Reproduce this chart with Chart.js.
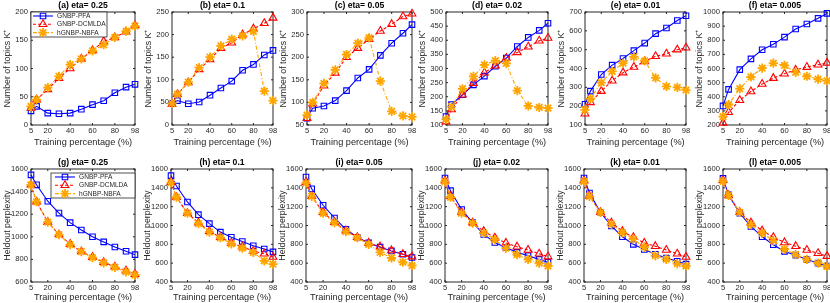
<html>
<head>
<script src="https://cdn.jsdelivr.net/npm/chart.js@4.4.0/dist/chart.umd.min.js"></script>
<style>
body { margin:0; width:830px; height:303px; overflow:hidden; background:#fff; position:relative; }
canvas { position:absolute; }
</style>
</head>
<body>
<script>
// training percentages and axis ticks
var pct = [5,10,20,30,40,50,60,70,80,90,98];
var pctTicks = [5,20,40,60,80,98];
var etas = ['0.25','0.1','0.05','0.02','0.01','0.005'];
var topLetters = ['a','b','c','d','e','f'];
var botLetters = ['g','h','i','j','k','l'];
var methods = ['GNBP-PFA','GNBP-DCMLDA','hGNBP-NBFA'];

// number of topics K+, one row per eta
var topicsPFA = [
  [25,33,21,20,21,28,36,43,57,67,72],
  [48,54,47,51,66,82,97,121,134,155,165],
  [65,87,92,104,126,154,173,204,231,253,272],
  [130,172,207,242,273,308,337,378,410,435,460],
  [210,280,368,418,453,495,535,585,615,655,680],
  [335,452,592,668,733,772,822,880,915,955,990]
];
var topicsDCMLDA = [
  [30,45,63,83,100,117,132,148,155,165,176],
  [46,68,94,123,145,170,182,200,213,225,237],
  [65,97,137,165,200,220,240,258,273,290,296],
  [112,155,207,248,285,310,337,357,377,398,408],
  [160,220,280,335,378,408,438,465,478,500,510],
  [215,290,375,437,490,532,563,590,610,627,640]
];
var topicsNBFA = [
  [33,45,66,86,107,117,131,142,155,166,175],
  [48,68,95,127,150,175,190,197,207,75,54],
  [72,100,142,172,206,231,243,147,80,70,68],
  [120,165,228,272,313,328,318,222,168,162,160],
  [180,240,325,385,428,462,440,350,305,300,285],
  [260,345,458,540,603,638,622,572,545,525,512]
];
var topicsMin = [0,0,50,100,100,200];
var topicsMax = [200,250,300,500,700,1000];
var topicsStep = [50,50,50,50,100,100];

// heldout perplexity, one row per eta
var perpPFA = [
  [1548,1460,1315,1210,1125,1060,1000,955,910,872,842],
  [1530,1420,1250,1115,1020,930,875,830,785,750,720],
  [1515,1390,1215,1080,960,875,815,770,730,695,660],
  [1505,1370,1170,1030,905,820,765,715,680,640,610],
  [1505,1345,1140,995,880,800,745,695,655,620,590],
  [1500,1325,1130,990,880,795,725,685,640,600,570]
];
var perpDCMLDA = [
  [1460,1310,1130,1020,935,870,820,775,735,700,670],
  [1460,1300,1130,1030,940,875,815,775,730,700,665],
  [1460,1310,1140,1035,945,875,815,775,735,695,670],
  [1475,1310,1140,1030,940,870,815,775,740,700,670],
  [1475,1315,1140,1030,940,875,815,780,740,700,665],
  [1480,1320,1140,1030,945,875,820,780,740,705,675]
];
var perpNBFA = [
  [1460,1310,1130,1020,930,868,815,770,730,690,660],
  [1455,1300,1130,1020,930,870,805,760,715,625,590],
  [1450,1310,1130,1030,935,870,800,715,655,610,575],
  [1465,1300,1130,1025,920,850,760,690,640,600,570],
  [1465,1310,1140,1015,925,855,770,680,640,595,570],
  [1470,1320,1140,1010,920,840,750,690,640,600,565]
];
var perpMin = [600,400,400,400,400,400];
var perpMax = [1600,1600,1600,1600,1600,1600];

var AXC = '#262626';
var FONT = '"Liberation Sans", Arial, sans-serif';
Chart.defaults.font.family = FONT;
Chart.defaults.color = AXC;

var styles = [
  {color:'#0000ff', pointStyle:'rect', radius:3.9, dash:[], bw:1.1},
  {color:'#ff0000', pointStyle:'triangle', radius:4.5, dash:[3,2], bw:1.1},
  {color:'#ffa500', pointStyle:'star', radius:4.6, dash:[4,2,1,2], bw:1.8}
];

// axes box with inward ticks, like the original figure
var boxPlugin = {
  id: 'axBox',
  beforeDatasetsDraw(chart) {
    var ctx = chart.ctx, a = chart.chartArea;
    ctx.save();
    ctx.strokeStyle = AXC;
    ctx.lineWidth = 1;
    ctx.strokeRect(a.left, a.top, a.right - a.left, a.bottom - a.top);
    ctx.beginPath();
    chart.scales.x.ticks.forEach(function(t) {
      var px = chart.scales.x.getPixelForValue(t.value);
      ctx.moveTo(px, a.bottom); ctx.lineTo(px, a.bottom - 2);
      ctx.moveTo(px, a.top); ctx.lineTo(px, a.top + 2);
    });
    chart.scales.y.ticks.forEach(function(t) {
      var py = chart.scales.y.getPixelForValue(t.value);
      ctx.moveTo(a.left, py); ctx.lineTo(a.left + 2, py);
      ctx.moveTo(a.right, py); ctx.lineTo(a.right - 2, py);
    });
    ctx.stroke();
    ctx.restore();
  }
};

var legendPlugin = {
  id: 'boxLegend',
  afterDatasetsDraw(chart, args, opts) {
    if (!opts.show) return;
    var ctx = chart.ctx, a = chart.chartArea;
    var w = opts.width, h = 25;
    var x0 = opts.right ? a.right - w : a.left;
    var y0 = a.top + opts.dy;
    ctx.save();
    ctx.fillStyle = '#fff';
    ctx.fillRect(x0, y0, w, h);
    ctx.strokeStyle = AXC;
    ctx.lineWidth = 0.8;
    ctx.strokeRect(x0, y0, w, h);
    chart.data.datasets.forEach(function(ds, i) {
      var st = styles[i];
      var y = y0 + 4 + i * 8.3;
      ctx.strokeStyle = st.color;
      ctx.lineWidth = 1.1;
      ctx.setLineDash(st.dash);
      ctx.beginPath();
      ctx.moveTo(x0 + opts.s0, y); ctx.lineTo(x0 + opts.s1, y);
      ctx.stroke();
      ctx.setLineDash([]);
      ctx.fillStyle = 'rgba(0,0,0,0)';
      ctx.lineWidth = st.bw;
      Chart.helpers.drawPoint(ctx, {pointStyle: st.pointStyle, radius: st.radius, borderWidth: st.bw, rotation: 0}, x0 + (opts.s0 + opts.s1) / 2, y);
      ctx.fillStyle = AXC;
      ctx.font = '6.6px ' + FONT;
      ctx.textBaseline = 'middle';
      ctx.fillText(ds.label, x0 + opts.tx, y + 0.3);
    });
    ctx.restore();
  }
};

var plotL = [[31,172,307,446,585,723],[31,171,306,445,584,723]];
var plotR = [[135,273,412,548,686,827],[135,273,412,548,686,827]];
var rowTop = [12,169];
var rowBot = [125,282];
var xTitlePad = [2,4];

function makePanel(row, col) {
  var YW = 31, TH = 12, XH = 24, RP = 8;
  var pl = plotL[row][col], pr = plotR[row][col], pt = rowTop[row], pb = rowBot[row];
  var cv = document.createElement('canvas');
  cv.width = YW + (pr - pl) + RP;
  cv.height = TH + (pb - pt) + XH;
  cv.style.left = (pl - YW) + 'px';
  cv.style.top = (pt - TH) + 'px';
  document.body.appendChild(cv);

  var series = row === 0
    ? [topicsPFA[col], topicsDCMLDA[col], topicsNBFA[col]]
    : [perpPFA[col], perpDCMLDA[col], perpNBFA[col]];
  var datasets = series.map(function(vals, i) {
    var st = styles[i];
    return {
      label: methods[i],
      data: vals.map(function(v, k) { return {x: pct[k], y: v}; }),
      borderColor: st.color,
      backgroundColor: 'rgba(0,0,0,0)',
      borderWidth: 1.1,
      borderDash: st.dash,
      pointStyle: st.pointStyle,
      pointRadius: st.radius,
      pointBorderWidth: st.bw,
      pointBorderColor: st.color,
      pointBackgroundColor: 'rgba(0,0,0,0)',
      tension: 0,
      clip: false,
      order: 2 - i
    };
  });
  var letter = row === 0 ? topLetters[col] : botLetters[col];
  var legendOpts = {show: false};
  if (col === 0 && row === 0) legendOpts = {show: true, right: false, dy: 0, width: 76, s0: 2, s1: 22, tx: 26};
  if (col === 0 && row === 1) legendOpts = {show: true, right: true, dy: 4, width: 84, s0: 4, s1: 24, tx: 28};

  new Chart(cv, {
    type: 'line',
    data: {datasets: datasets},
    plugins: [boxPlugin, legendPlugin],
    options: {
      responsive: false,
      animation: false,
      devicePixelRatio: 1,
      layout: {padding: {left: 0, top: 0, right: RP, bottom: 0}},
      plugins: {
        legend: {display: false},
        tooltip: {enabled: false},
        title: {
          display: true,
          fullSize: false,
          text: '(' + letter + ') eta= ' + etas[col],
          font: {size: 8.6, weight: 'bold', lineHeight: '11px'},
          color: '#000',
          padding: {top: 0, bottom: 1}
        },
        boxLegend: legendOpts
      },
      scales: {
        x: {
          type: 'linear',
          min: 5, max: 98,
          afterBuildTicks: function(s) { s.ticks = pctTicks.map(function(v) { return {value: v}; }); },
          afterFit: function(s) { s.height = XH; },
          grid: {display: false, drawTicks: false},
          border: {display: false},
          ticks: {font: {size: 7.6, lineHeight: '9px'}, padding: 1, maxRotation: 0, autoSkip: false, color: AXC,
                  callback: function(v) { return String(v); }},
          title: {display: true, text: 'Training percentage (%)', font: {size: 9.2, lineHeight: '10px'}, padding: {top: 0, bottom: xTitlePad[row]}, color: AXC}
        },
        y: {
          type: 'linear',
          min: row === 0 ? topicsMin[col] : perpMin[col],
          max: row === 0 ? topicsMax[col] : perpMax[col],
          afterFit: function(s) { s.width = YW; },
          grid: {display: false, drawTicks: false},
          border: {display: false},
          ticks: {stepSize: row === 0 ? topicsStep[col] : 200, font: {size: 7.6, lineHeight: '9px'}, padding: 3, color: AXC,
                  callback: function(v) { return String(v); }},
          title: {display: true, text: row === 0 ? 'Number of topics K\u207A' : 'Heldout perplexity', font: {size: 8.8, lineHeight: '10px'}, padding: {top: 3, bottom: 0}, color: AXC}
        }
      }
    }
  });
}

for (var r = 0; r < 2; r++) {
  for (var c = 0; c < 6; c++) makePanel(r, c);
}
</script>
</body>
</html>
